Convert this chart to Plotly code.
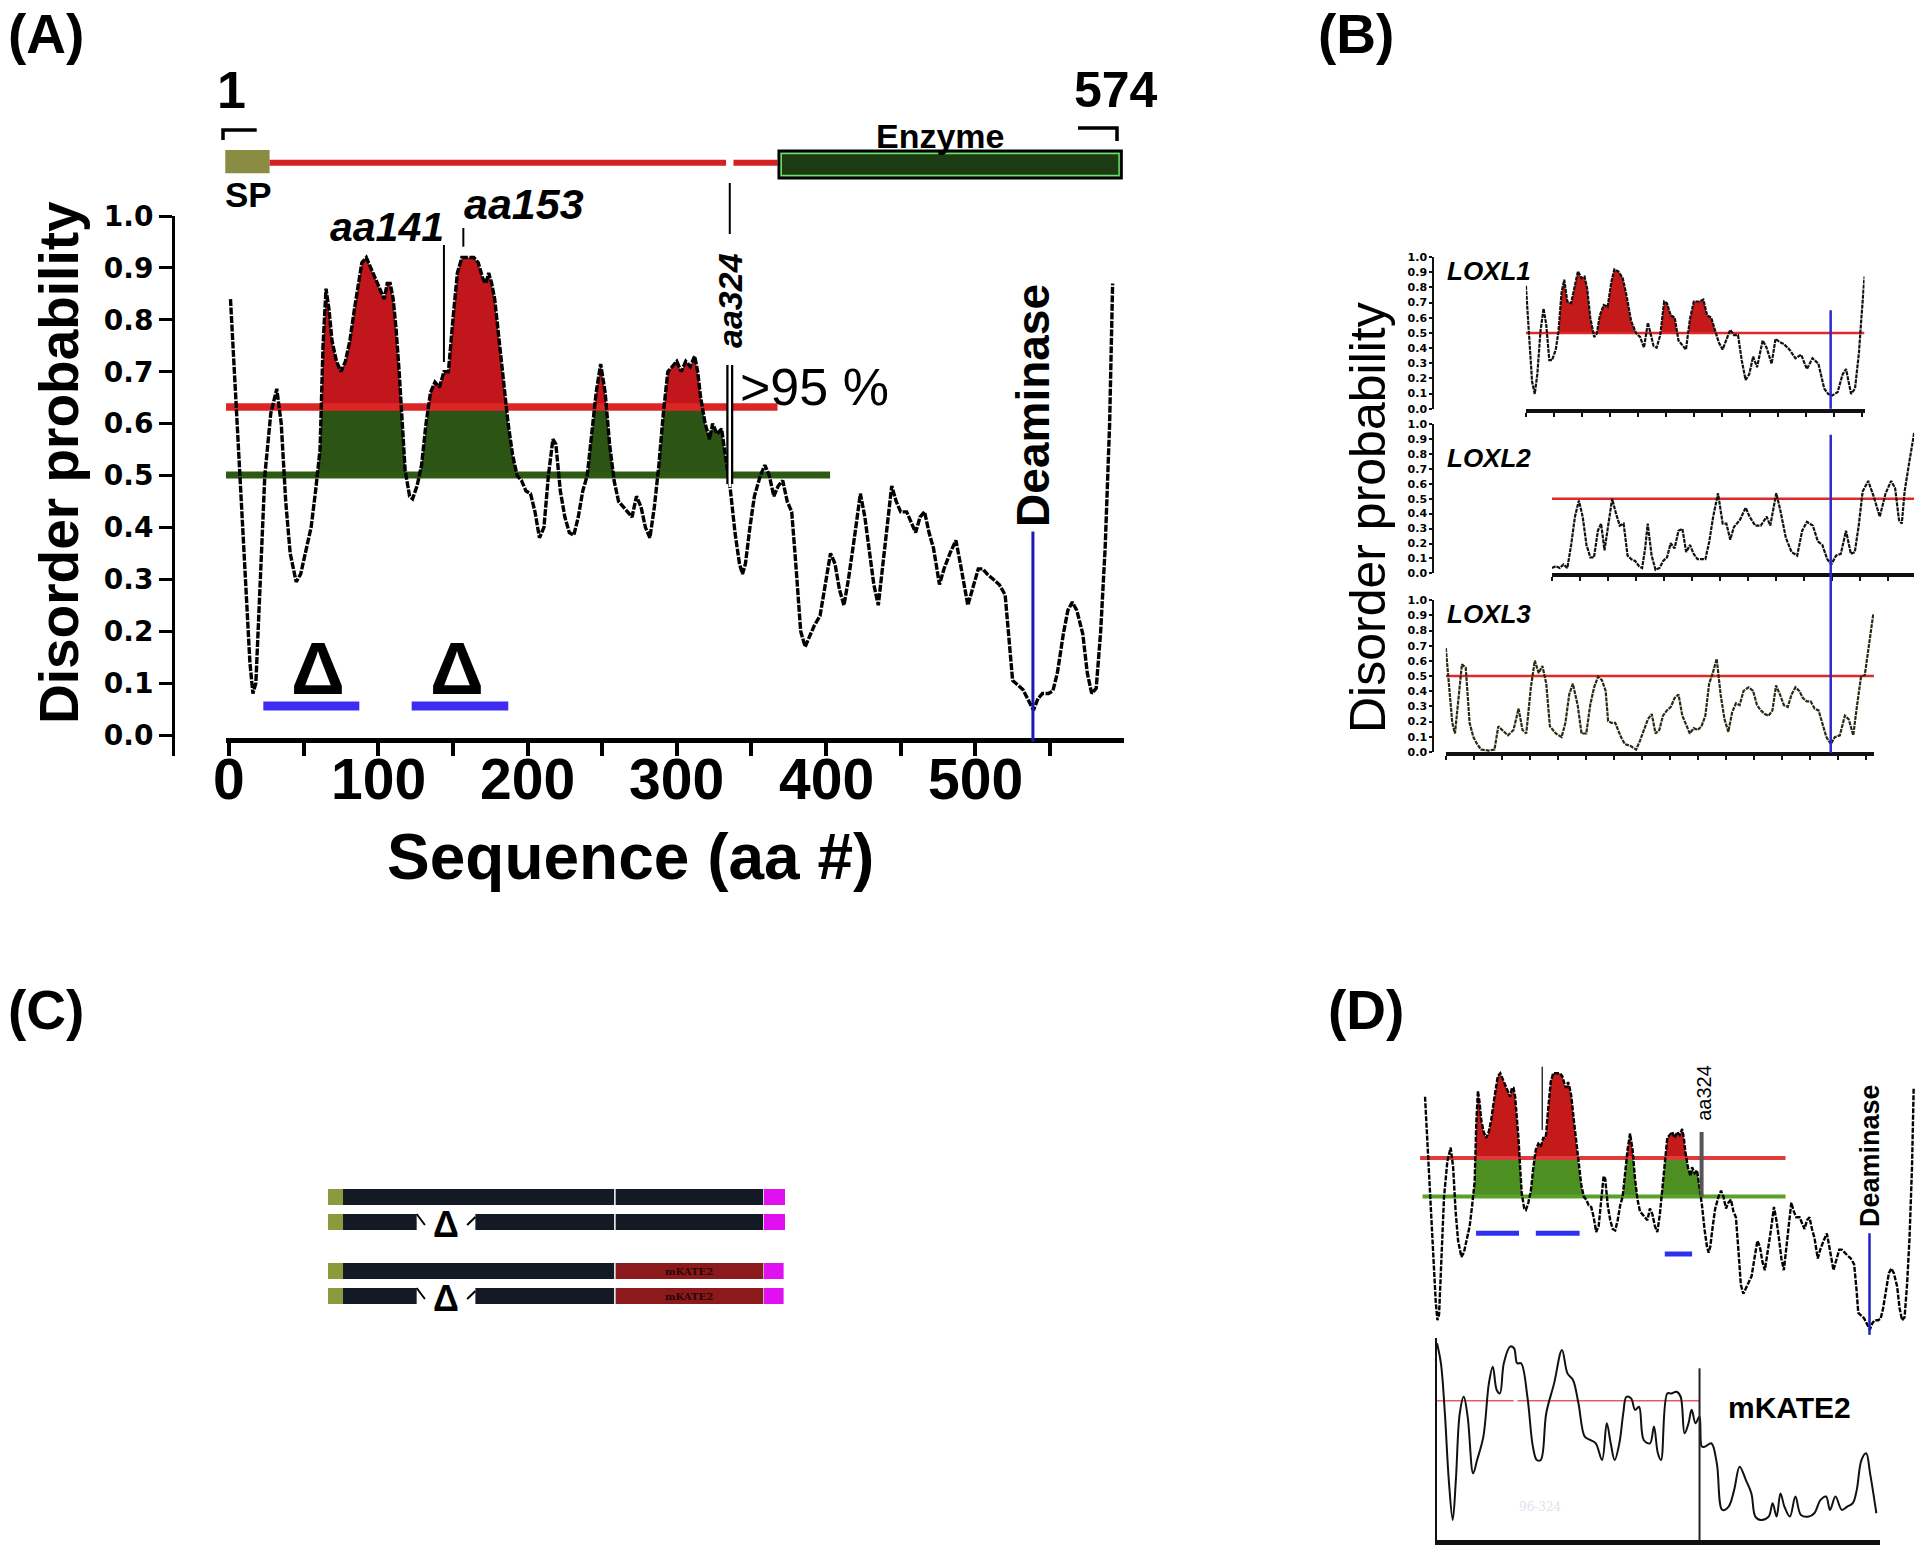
import numpy as np
import plotly.graph_objects as go

W, H = 1920, 1550
SANS = "Liberation Sans, Arial, Helvetica, sans-serif"
WIDE = "DejaVu Sans, Verdana, sans-serif"
SERIF = "DejaVu Serif, serif"

# --------------------------------------------------
# Data
# --------------------------------------------------
# (A) / (D) LOXL1 disorder profile
seq_aa = [1, 5, 8, 11, 14, 16, 18, 21, 24, 28,
          32, 35, 38, 41, 45, 48, 52, 55, 58, 61,
          63, 65, 67, 69, 72, 75, 78, 81, 84, 87,
          89, 92, 95, 98, 101, 104, 106, 108, 110, 112,
          114, 116, 118, 121, 123, 126, 129, 132, 135, 138,
          141, 144, 147, 150, 153, 156, 160, 164, 167, 170,
          172, 174, 176, 178, 181, 184, 187, 190, 193, 196,
          199, 202, 205, 208, 211, 214, 217, 219, 222, 225,
          228, 231, 234, 237, 240, 243, 246, 249, 252, 255,
          258, 261, 264, 267, 270, 273, 276, 279, 282, 285,
          288, 291, 294, 297, 300, 303, 306, 309, 312, 314,
          316, 319, 322, 324, 327, 330, 333, 336, 339, 342,
          344, 346, 349, 352, 356, 359, 362, 365, 368, 371,
          374, 377, 380, 383, 386, 389, 392, 396, 400, 403,
          406, 409, 412, 415, 419, 423, 426, 429, 432, 435,
          438, 441, 444, 447, 450, 454, 457, 460, 463, 466,
          469, 472, 476, 479, 483, 487, 490, 493, 495, 499,
          502, 505, 508, 512, 516, 520, 523, 525, 529, 532,
          535, 539, 542, 545, 549, 552, 555, 559, 562, 565,
          568, 572, 575, 578, 581, 584, 587, 590, 592]
seq_p = [.84, .62, .45, .30, .14, .08, .10, .30, .50, .62,
         .667, .60, .45, .35, .295, .31, .36, .40, .47, .55,
         .75, .86, .82, .76, .72, .70, .72, .76, .82, .88,
         .91, .92, .90, .88, .86, .84, .87, .87, .84, .78,
         .70, .60, .51, .46, .455, .48, .52, .60, .66, .68,
         .67, .70, .70, .80, .89, .92, .92, .92, .91, .88,
         .87, .89, .87, .84, .76, .68, .60, .54, .50, .49,
         .47, .465, .43, .38, .40, .50, .57, .56, .47, .42,
         .39, .385, .42, .47, .50, .58, .66, .715, .66, .56,
         .49, .45, .44, .43, .42, .46, .44, .40, .38, .44,
         .52, .62, .70, .71, .72, .70, .72, .71, .73, .70,
         .65, .60, .57, .60, .58, .59, .53, .47, .39, .33,
         .31, .33, .40, .46, .50, .52, .50, .46, .48, .49,
         .45, .43, .32, .20, .17, .19, .21, .23, .30, .35,
         .33, .28, .25, .30, .38, .465, .42, .36, .29, .25,
         .33, .41, .48, .45, .43, .43, .41, .39, .42, .43,
         .39, .36, .29, .32, .35, .375, .33, .28, .25, .29,
         .32, .32, .31, .30, .29, .27, .18, .105, .095, .087,
         .07, .048, .07, .08, .08, .085, .12, .195, .24, .256,
         .24, .195, .12, .08, .09, .20, .36, .60, .87]
a_xticks = [0, 100, 200, 300, 400, 500]

# (B) paralog profiles
loxl1_x = [0, 5.5, 11, 15.8, 20.5, 26, 31.5, 36.3, 41.8, 46.6,
           53.4, 58.2, 63.7, 68.5, 74, 80.8, 87.7, 93, 99.3, 104.8,
           109.6, 115, 122, 126.7, 132, 139, 146, 152.7, 158, 165,
           173, 180, 188, 197, 204, 211, 218, 222.6, 228, 233.6,
           240, 247, 252, 258.9, 265.8, 272.6, 279.5, 286, 293, 300,
           310, 317, 324, 331, 337.7, 344.5, 351.4, 358, 365, 372,
           379, 385.6, 392.5, 399, 406, 413, 423, 430, 439, 446,
           454, 461, 471, 481.5, 491.8, 502, 512, 522.6, 533, 540,
           547, 557, 565.8, 572, 581, 588, 595, 599, 605]
loxl1_p = [.81, .46, .18, .098, .23, .51, .66, .555, .32, .32,
           .39, .51, .766, .85, .707, .696, .81, .906, .86, .871,
           .79, .60, .473, .497, .614, .684, .672, .836, .918, .906,
           .86, .742, .578, .497, .473, .403, .567, .497, .415, .403,
           .485, .707, .696, .614, .602, .45, .415, .39, .59, .707,
           .707, .72, .614, .602, .52, .438, .39, .46, .52, .485,
           .485, .32, .19, .227, .344, .274, .45, .403, .297, .461,
           .438, .426, .39, .333, .356, .262, .333, .297, .133, .098,
           .087, .11, .227, .262, .098, .133, .368, .578, .871]

loxl2_x = [0, 6.8, 13.7, 20.5, 27.4, 34.2, 41, 48, 54.8, 61.6,
           68.5, 75, 82, 87.7, 93.8, 100.7, 107.5, 114, 121, 128,
           135, 141.8, 148.6, 155.5, 161, 166.4, 171, 178, 185, 192,
           198.6, 205.5, 212, 219, 226, 233, 239.7, 246.6, 253, 260,
           267, 274, 281, 288, 296.6, 305, 311.6, 318.5, 325, 335.6,
           346, 353, 363, 373, 383.6, 390, 400.7, 407.5, 417.8, 428,
           438, 447, 455.5, 466, 475, 483, 491.8, 499, 507.5, 516,
           525.3, 534, 541, 548, 555, 565, 575, 585.6, 596, 606,
           613, 620, 625, 630, 637, 647]
loxl2_p = [.036, .048, .036, .06, .036, .19, .38, .488, .38, .19,
           .107, .107, .286, .333, .155, .333, .50, .405, .32, .333,
           .119, .095, .083, .048, .036, .167, .333, .119, .024, .036,
           .083, .107, .202, .167, .286, .298, .143, .19, .131, .095,
           .095, .095, .214, .38, .536, .333, .333, .226, .31, .357,
           .44, .38, .32, .32, .38, .32, .536, .43, .238, .143,
           .119, .286, .345, .32, .214, .19, .095, .06, .119, .131,
           .286, .131, .143, .32, .548, .619, .512, .38, .536, .619,
           .571, .357, .333, .548, .714, .94]

loxl3_x = [0, 4.8, 11.6, 16.4, 22, 28.8, 35.6, 42.5, 49.3, 56,
           63, 76.7, 87, 93.8, 100.7, 111, 121, 130, 137, 143.8,
           152, 159, 166, 172.6, 179.5, 186, 196.6, 206.8, 213.7, 220.5,
           227, 235.6, 242.5, 251, 258, 265, 272, 279, 285.6, 290,
           296, 302.7, 313, 320, 330, 340, 347, 354, 361, 368,
           374.7, 381.5, 388, 395, 402, 408.9, 415.8, 422.6, 429.5, 436,
           443, 450, 456.8, 463.7, 470.5, 477, 484, 491, 498, 504.8,
           511.6, 518.5, 525, 532, 541, 549, 556, 563, 570, 576.7,
           583.6, 590, 597, 604, 611, 617.8, 624.7, 631.5, 638, 645,
           652, 659, 666, 673, 680, 688, 695, 704, 713, 720,
           728, 734, 741.8, 748.6, 756.8, 763.7]
loxl3_p = [.684, .473, .192, .122, .333, .578, .555, .192, .098, .052,
           .016, .009, .016, .169, .145, .11, .145, .286, .145, .122,
           .426, .602, .52, .567, .45, .169, .122, .098, .192, .379,
           .45, .309, .122, .122, .309, .426, .496, .473, .403, .204,
           .192, .192, .098, .052, .04, .016, .075, .145, .215, .25,
           .122, .145, .239, .274, .297, .356, .379, .239, .18, .122,
           .157, .145, .169, .239, .45, .52, .614, .379, .215, .133,
           .262, .321, .309, .403, .426, .403, .309, .274, .25, .239,
           .274, .438, .379, .309, .297, .379, .426, .403, .356, .333,
           .333, .286, .274, .192, .098, .052, .098, .11, .239, .215,
           .11, .286, .496, .508, .731, .906]

# (D) chimeric LOXL1-mKATE2 profile
kte_x = [0, 5, 10, 15, 20, 24, 29, 34, 39, 46,
         51, 59, 66, 71, 76, 80, 85, 93, 98, 102,
         107, 115, 122, 127, 132, 139, 149, 159, 166, 173,
         180, 188, 195, 202, 210, 216, 221, 226, 232, 237,
         241, 247, 252, 257, 263, 271, 276, 281, 285, 293,
         298, 305, 310, 315, 320, 324, 329, 334, 337, 341,
         349, 356, 363, 371, 378, 385, 393, 400, 405, 412,
         422, 427, 432, 437, 442, 449, 456, 463, 473, 480,
         488, 495, 500, 507, 515, 522, 529, 534, 540, 546,
         551, 559]
kte_p = [.706, .634, .455, .215, .072, .215, .455, .514, .443, .239,
         .287, .371, .562, .622, .538, .526, .634, .694, .688, .634,
         .634, .514, .335, .287, .287, .455, .562, .682, .598, .574,
         .49, .371, .359, .347, .287, .419, .347, .287, .347, .455,
         .514, .508, .467, .478, .359, .347, .407, .311, .287, .526,
         .526, .532, .514, .383, .419, .467, .419, .443, .335, .335,
         .347, .275, .108, .12, .179, .263, .215, .167, .084, .072,
         .084, .132, .084, .167, .12, .084, .156, .09, .084, .096,
         .144, .156, .108, .156, .108, .12, .132, .179, .287, .311,
         .239, .096]

# features (aa)
thr_red, thr_green = 0.632, 0.501
fill_regions = [(56, 121), (125, 196), (238, 260), (284, 335)]
loxl1_regions = [(57, 120), (127, 200), (242, 270), (288, 340)]
red_span, green_span = (-2, 367.5), (-2, 402.7)
delta_bars = [(23.0, 87.3), (122.4, 187.1)]
delta_centres = [59.6, 152.6]
d_red_span, d_green_span = (-5, 437), (-2, 437)
d_bars = [(62.7, 114.7, 0.376), (135.0, 188.0, 0.376), (291.0, 324.0, 0.305)]
d_aa141 = 142.8
deaminase_aa = 538.6
aa141, aa153, aa324 = 144.0, 157.0, 335.5
sp_span, linker_span, enzyme_span = (-2.5, 27.2), (27.2, 367.5), (368.3, 598.0)
linker_gap = (333.0, 338.0)
b_deaminase = [544.5, 498.0, 687.7]
kte_red = [(0, 97.5), (102.4, 334)]
kte_junction = 334

# (C) constructs
c_names = ["LOXL1", "Δ125 LOXL1", "CH LX-KTE", "CHΔ125LX-KTE"]
c_deleted = [False, True, False, True]
c_chimera = [False, False, True, True]
c_sp, c_body, c_junction = (0, 16.4), (16.4, 475.1), 313.2
c_del, c_tag = (96.8, 160.9), (476.0, 498.9)


# --------------------------------------------------
# helpers
# --------------------------------------------------
def fx(px):
    return px / W


def fy(py):
    return 1 - py / H


def band(x, y, x_lo, x_hi, lo, hi=np.inf):
    x = np.asarray(x, float)
    y = np.asarray(y, float)
    xs = np.concatenate([[x_lo], x[(x > x_lo) & (x < x_hi)], [x_hi]])
    ys = np.interp(xs, x, y)
    px, py = [xs[0]], [ys[0]]
    for i in range(1, len(xs)):
        x0, y0, x1, y1 = xs[i - 1], ys[i - 1], xs[i], ys[i]
        cuts = []
        for lvl in (lo, hi):
            if np.isfinite(lvl) and (y0 - lvl) * (y1 - lvl) < 0:
                cuts.append((lvl - y0) / (y1 - y0))
        for t in sorted(cuts):
            px.append(x0 + t * (x1 - x0))
            py.append(y0 + t * (y1 - y0))
        px.append(x1)
        py.append(y1)
    top = np.clip(py, lo, hi)
    return px + px[::-1], list(top) + [lo] * len(px)


shapes, anns = [], []


def seg(x0, y0, x1, y1, xr, yr, color="black", width=2):
    shapes.append(dict(type="line", xref=xr, yref=yr, x0=x0, y0=y0, x1=x1, y1=y1,
                       line=dict(color=color, width=width)))


def box(x0, y0, x1, y1, xr, yr, fill, lc=None, lw=0):
    shapes.append(dict(type="rect", xref=xr, yref=yr, x0=x0, y0=y0, x1=x1, y1=y1,
                       fillcolor=fill, line=dict(color=lc or fill, width=lw)))


def label(text, x, y, xr="paper", yr="paper", size=20, family=SANS, weight="normal",
          style="normal", angle=0, color="black", xanchor="center", yanchor="middle"):
    anns.append(dict(text=text, x=x, y=y, xref=xr, yref=yr, showarrow=False,
                     textangle=angle, xanchor=xanchor, yanchor=yanchor,
                     font=dict(family=family, size=size, color=color,
                               weight=weight, style=style)))


def dash_line(x, y, xa, ya, width, color="black", dash="7px,1.5px", shape="linear"):
    return go.Scatter(x=x, y=y, mode="lines", xaxis=xa, yaxis=ya, hoverinfo="skip",
                      line=dict(color=color, width=width, dash=dash, shape=shape))


def flat(x0, x1, yv, xa, ya, color, width):
    return go.Scatter(x=[x0, x1], y=[yv, yv], mode="lines", xaxis=xa, yaxis=ya,
                      hoverinfo="skip", line=dict(color=color, width=width))


def filled(bx, by, xa, ya, color):
    return go.Scatter(x=bx, y=by, mode="lines", fill="toself", fillcolor=color,
                      line=dict(width=0), xaxis=xa, yaxis=ya, hoverinfo="skip")


# --------------------------------------------------
# geometry (pixels of the 1920x1550 page)
# --------------------------------------------------
A_X0, A_XS = 229.0, 1.4926
A_Y0, A_YS = 735.0, 519.0
A_XMAX = 599.5
B_XS = 0.5597
b_start = [1525.9, 1552.0, 1445.8]
b_len = [605, 647, 765]
b_ydom = [(408.8, 257.0), (573.4, 424.0), (752.0, 600.2)]
D_X0, D_XS = 1424.2, 0.8268
D_Y0, D_YS = 1343.7, 294.0
K_X0, K_XS = 1437.0, 0.786
K_Y0, K_YS = 1540.0, 278.7
C_X0, C_XS = 328.0, 0.916
C_Y0, C_YS = 1197.0, 25.0
c_rows = [0.0, 1.0, 2.96, 3.96]


def a_u(px):
    return (px - A_X0) / A_XS


def a_p(py):
    return (A_Y0 - py) / A_YS


fig = go.Figure()

# ---------------- (A) ----------------
for lo_x, hi_x in fill_regions:
    bx, by = band(seq_aa, seq_p, lo_x, hi_x, thr_green, thr_red)
    fig.add_trace(filled(bx, by, "x", "y", "#2c5415"))
    bx, by = band(seq_aa, seq_p, lo_x, hi_x, thr_red)
    fig.add_trace(filled(bx, by, "x", "y", "#c0161c"))
fig.add_trace(flat(*green_span, thr_green, "x", "y", "#2e5a14", 7))
fig.add_trace(flat(*red_span, thr_red, "x", "y", "#dc2626", 7.5))
fig.add_trace(dash_line(seq_aa, seq_p, "x", "y", 3.4))
for b0, b1 in delta_bars:
    fig.add_trace(flat(b0, b1, 0.056, "x", "y", "#3f2cf2", 9))
fig.add_trace(go.Scatter(x=[], y=[], xaxis="x2", yaxis="y2"))

# domain map above the plot
box(sp_span[0], a_p(173.3), sp_span[1], a_p(150), "x2", "y2", "#8a8c44")
seg(linker_span[0], a_p(162.7), linker_gap[0], a_p(162.7), "x2", "y2", "#d42020", 6)
seg(linker_gap[1], a_p(162.7), linker_span[1], a_p(162.7), "x2", "y2", "#d42020", 6)
box(enzyme_span[0], a_p(178.3), enzyme_span[1], a_p(150.7), "x2", "y2", "#1d3b12", "black", 2.5)
box(enzyme_span[0] + 2.5 / A_XS, a_p(175.5), enzyme_span[1] - 2.5 / A_XS, a_p(153.5),
    "x2", "y2", "rgba(0,0,0,0)", "#6ee06e", 1.5)
shapes.append(dict(type="path", xref="x2", yref="y2",
                   path=f"M {a_u(223)},{a_p(140)} L {a_u(223)},{a_p(130)} L {a_u(256.7)},{a_p(130)}",
                   line=dict(color="black", width=3.5)))
shapes.append(dict(type="path", xref="x2", yref="y2",
                   path=f"M {a_u(1078)},{a_p(128)} L {a_u(1117)},{a_p(128)} L {a_u(1117)},{a_p(141)}",
                   line=dict(color="black", width=3.5)))

# markers
seg(aa141, a_p(245), aa141, a_p(362), "x2", "y2", "black", 2)
seg(aa153, a_p(228), aa153, a_p(246.7), "x2", "y2", "black", 2)
seg(aa324, a_p(183), aa324, a_p(234), "x2", "y2", "black", 2)
seg(aa324, a_p(365), aa324, a_p(484), "x2", "y2", "black", 7)
seg(aa324, a_p(362), aa324, a_p(487), "x2", "y2", "white", 2.5)
seg(deaminase_aa, 0.392, deaminase_aa, -0.013, "x2", "y2", "#1a1ab4", 3)

label("(A)", fx(46), fy(34), size=55, weight="bold")
label("1", a_u(231.7), a_p(90), "x2", "y2", size=52, weight="bold")
label("574", a_u(1116), a_p(90), "x2", "y2", size=50, weight="bold")
label("SP", a_u(248), a_p(194), "x2", "y2", size=35, weight="bold")
label("Enzyme", a_u(940), a_p(136), "x2", "y2", size=34, weight="bold")
label("aa141", a_u(387), a_p(226.7), "x2", "y2", size=41, weight="bold", style="italic")
label("aa153", a_u(524), a_p(204), "x2", "y2", size=43, weight="bold", style="italic")
label("aa324", a_u(730), a_p(301), "x2", "y2", size=34, weight="bold", style="italic", angle=-90)
label("&gt;95 %", a_u(814), a_p(387), "x2", "y2", size=52)
label("Deaminase", deaminase_aa, a_p(405), "x2", "y2", size=46, weight="bold", angle=-90)
for c in delta_centres:
    label("Δ", c, a_p(668), "x2", "y2", size=75, weight="bold")
for t in a_xticks:
    label(str(t), t, a_p(779), "x2", "y2", size=57, weight="bold")
label("Disorder probability", fx(59), fy(463), size=55, weight="bold", angle=-90)
label("Sequence (aa #)", a_u(630), a_p(857), "x2", "y2", size=64, weight="bold")

# ---------------- (B) ----------------
b_data = [(loxl1_x, loxl1_p), (loxl2_x, loxl2_p), (loxl3_x, loxl3_p)]
for i, (bxv, bpv) in enumerate(b_data):
    xa, ya = f"x{i + 3}", f"y{i + 3}"
    if i == 0:
        for lo_x, hi_x in loxl1_regions:
            bx, by = band(bxv, bpv, lo_x, hi_x, 0.5)
            fig.add_trace(filled(bx, by, xa, ya, "#c41a1a"))
    fig.add_trace(flat(0, b_len[i], 0.5, xa, ya, "#e02a2a", 2.5))
    fig.add_trace(dash_line(bxv, bpv, xa, ya, 2.2, "#111" if i < 2 else "#2a2a12", "4px,1px"))
seg(b_deaminase[0], 0.65, b_deaminase[0], -0.01, "x3", "y3", "#2a2ad0", 2.5)
seg(b_deaminase[1], fy(434.8), b_deaminase[1], fy(753), "x4", "paper", "#2a2ad0", 2.5)

label("(B)", fx(1356), fy(34), size=55, weight="bold")
label("Disorder probability", fx(1368), fy(518), size=50, angle=-90)
for name, yy in zip(["LOXL1", "LOXL2", "LOXL3"], [271, 457.7, 614]):
    label(name, fx(1488.7), fy(yy), size=26, weight="bold", style="italic")

# ---------------- (C) ----------------
fig.add_trace(go.Scatter(x=[], y=[], xaxis="x7", yaxis="y7"))
for r, name, dele, chim in zip(c_rows, c_names, c_deleted, c_chimera):
    y0, y1 = r - 0.32, r + 0.32
    box(c_sp[0], y0, c_sp[1], y1, "x7", "y7", "#8a9a3c")
    pieces = [(c_sp[1], c_del[0]), (c_del[1], c_body[1])] if dele else [(c_sp[1], c_body[1])]
    for p0, p1 in pieces:
        box(p0, y0, p1, y1, "x7", "y7", "#131a24")
    if chim:
        box(c_junction + 0.6, y0, c_body[1], y1, "x7", "y7", "#8c1a1c")
        label("mKATE2", (c_junction + c_body[1]) / 2, r, "x7", "y7", size=10,
              family=SERIF, weight="bold", color="#2a0606")
    seg(c_junction, y0, c_junction, y1, "x7", "y7", "white", 1.5)
    box(c_tag[0], y0, c_tag[1] - (1.5 if chim else 0), y1, "x7", "y7", "#e010f0")
    if dele:
        seg(c_del[0], y0, c_del[0] + 9, r + 0.12, "x7", "y7", "black", 2)
        seg(c_del[1] - 9, r + 0.12, c_del[1], r - 0.2, "x7", "y7", "black", 2)
        label("Δ", (c_del[0] + c_del[1]) / 2 - 0.2, r + 0.1, "x7", "y7", size=36, weight="bold")
for name, ly, lx in zip(c_names, [-0.5, 1.06, 2.9, 4.3], [793, 793, 793, 788]):
    label(name, (lx - C_X0) / C_XS, ly, "x7", "y7", size=29, weight="bold", xanchor="left")
label("(C)", fx(46), fy(1010), size=55, weight="bold")

# ---------------- (D) top ----------------
for lo_x, hi_x in fill_regions:
    bx, by = band(seq_aa, seq_p, lo_x, hi_x, thr_green, thr_red)
    fig.add_trace(filled(bx, by, "x6", "y6", "#4e8f22"))
    bx, by = band(seq_aa, seq_p, lo_x, hi_x, thr_red)
    fig.add_trace(filled(bx, by, "x6", "y6", "#c41a1a"))
fig.add_trace(flat(*d_green_span, thr_green, "x6", "y6", "#5aa02a", 4))
fig.add_trace(flat(*d_red_span, thr_red, "x6", "y6", "#e03a3a", 4))
fig.add_trace(dash_line(seq_aa, seq_p, "x6", "y6", 2.4, dash="5px,1.5px"))
for b0, b1, bp in d_bars:
    fig.add_trace(flat(b0, b1, bp, "x6", "y6", "#2f2ff0", 5))
seg(d_aa141, 0.942, d_aa141, 0.727, "x6", "y6", "#333", 1.5)
seg(aa324, 0.72, aa324, 0.5, "x6", "y6", "#555", 4)
seg(deaminase_aa, 0.376, deaminase_aa, 0.03, "x6", "y6", "#2020c0", 2.5)
label("aa324", (1704.6 - D_X0) / D_XS, 0.852, "x6", "y6", size=20, angle=-90)
label("Deaminase", (1869.4 - D_X0) / D_XS, 0.64, "x6", "y6", size=27, weight="bold", angle=-90)
label("(D)", fx(1366), fy(1010), size=55, weight="bold")

# ---------------- (D) bottom ----------------
for k0, k1 in kte_red:
    fig.add_trace(flat(k0, k1, 0.5, "x8", "y8", "#e06060", 1.5))
fig.add_trace(dash_line(kte_x, kte_p, "x8", "y8", 2, "#111", "solid", "spline"))
seg(kte_junction, 0.0, kte_junction, 0.616, "x8", "y8", "#222", 2)
label("mKATE2", (1789 - K_X0) / K_XS, 0.474, "x8", "y8", size=30, weight="bold")
label("96-324", (1540 - K_X0) / K_XS, 0.12, "x8", "y8", size=12, family=SERIF, color="#e2e2ec")

# --------------------------------------------------
# axes
# --------------------------------------------------
hidden = dict(visible=False, showgrid=False, zeroline=False, automargin=False)
layout_axes = dict(
    xaxis=dict(domain=[fx(A_X0 - 2 * A_XS), fx(A_X0 + A_XMAX * A_XS)], range=[-2, A_XMAX],
               anchor="free", position=fy(740), showline=True, linewidth=5, linecolor="black",
               ticks="outside", ticklen=13, tickwidth=4, tickcolor="black", dtick=100, tick0=0,
               minor=dict(dtick=50, ticks="outside", ticklen=13, tickwidth=4, tickcolor="black"),
               showticklabels=False, showgrid=False, zeroline=False, automargin=False),
    yaxis=dict(domain=[fy(A_Y0 + 0.04 * A_YS), fy(A_Y0 - A_YS)], range=[-0.04, 1.0],
               anchor="free", position=fx(173), showline=True, linewidth=3, linecolor="black",
               ticks="outside", ticklen=13, tickwidth=3, tickcolor="black", dtick=0.1, tick0=0,
               tickformat=".1f", tickfont=dict(family=WIDE, size=28, color="black", weight="bold"),
               showgrid=False, zeroline=False, automargin=False),
    xaxis2=dict(domain=[0, 1], range=[a_u(0), a_u(W)], anchor="y2", **hidden),
    yaxis2=dict(domain=[0, 1], range=[a_p(H), a_p(0)], anchor="x2", **hidden),
    xaxis6=dict(domain=[fx(1418), 1.0], range=[(1418 - D_X0) / D_XS, (W - D_X0) / D_XS],
                anchor="y6", **hidden),
    yaxis6=dict(domain=[fy(D_Y0 + 0.1 * D_YS), fy(D_Y0 - 1.1 * D_YS)], range=[-0.1, 1.1],
                anchor="x6", **hidden),
    xaxis7=dict(domain=[fx(C_X0), fx(C_X0 + 500.5 * C_XS)], range=[0, 500.5], anchor="y7", **hidden),
    yaxis7=dict(domain=[fy(1340), fy(1150)],
                range=[(1340 - C_Y0) / C_YS, (1150 - C_Y0) / C_YS], anchor="x7", **hidden),
    xaxis8=dict(domain=[fx(K_X0), fx(1880)], range=[0, (1880 - K_X0) / K_XS], anchor="y8",
                showline=True, linewidth=4.5, linecolor="#111", ticks="", showticklabels=False,
                showgrid=False, zeroline=False, automargin=False),
    yaxis8=dict(domain=[fy(K_Y0), fy(1338)], range=[0, (K_Y0 - 1338) / K_YS], anchor="x8",
                showline=True, linewidth=2, linecolor="#111", ticks="", showticklabels=False,
                showgrid=False, zeroline=False, automargin=False),
)
for i in range(3):
    n = i + 3
    bottom, top = b_ydom[i]
    layout_axes[f"xaxis{n}"] = dict(
        domain=[fx(b_start[i]), fx(b_start[i] + b_len[i] * B_XS)], range=[0, b_len[i]],
        anchor=f"y{n}", showline=True, linewidth=3.5, linecolor="#111", ticks="outside",
        ticklen=4, tickwidth=1.5, tickcolor="#111", dtick=50, tick0=0, showticklabels=False,
        showgrid=False, zeroline=False, automargin=False)
    layout_axes[f"yaxis{n}"] = dict(
        domain=[fy(bottom), fy(top)], range=[0, 1], anchor="free", position=fx(1433),
        showline=True, linewidth=1.5, linecolor="#111", ticks="outside", ticklen=3,
        tickwidth=1.5, tickcolor="#111", dtick=0.1, tick0=0, tickformat=".1f",
        tickfont=dict(family=WIDE, size=11, color="black", weight="bold"),
        showgrid=False, zeroline=False, automargin=False)

fig.update_layout(
    template="none",
    width=W,
    height=H,
    margin=dict(l=0, r=0, t=0, b=0, pad=0),
    paper_bgcolor="white",
    plot_bgcolor="rgba(0,0,0,0)",
    showlegend=False,
    shapes=shapes,
    annotations=anns,
    **layout_axes,
)

fig.write_html("out.html", config={"displayModeBar": False},
               post_script="document.body.style.margin = '0';")
